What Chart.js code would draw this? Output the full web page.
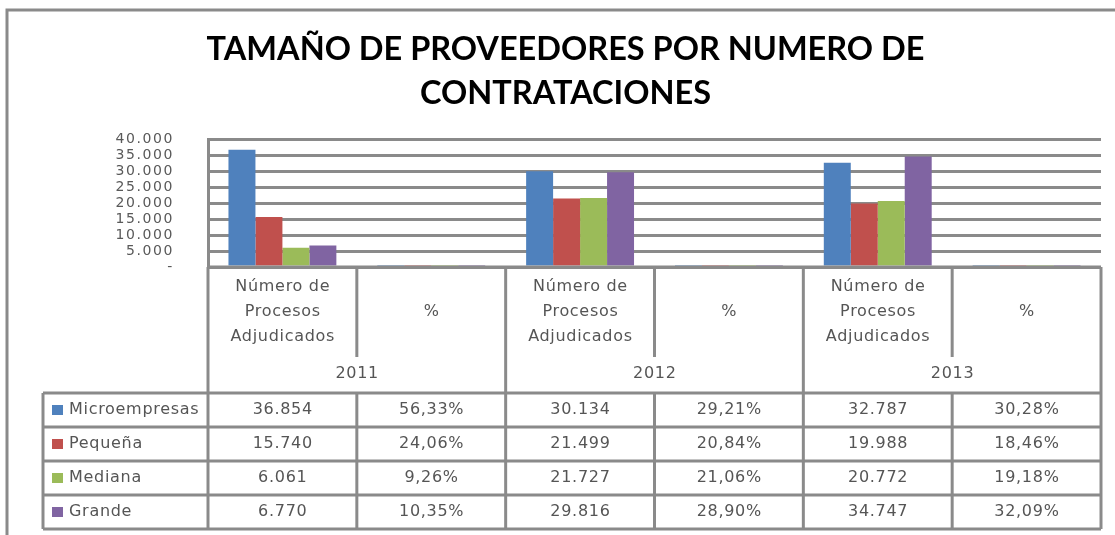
<!DOCTYPE html>
<html>
<head>
<meta charset="utf-8">
<script src="https://cdn.jsdelivr.net/npm/chart.js@4"></script>
<style>
  html, body { margin: 0; padding: 0; background: #fff; }
  canvas { display: block; }
</style>
</head>
<body>
<canvas id="chart" width="1115" height="535"></canvas>
<script>
// categorias del eje x (dos columnas por año)
const categories = ['Número de Procesos Adjudicados', '%', 'Número de Procesos Adjudicados', '%', 'Número de Procesos Adjudicados', '%'];
const years = ['2011', '2012', '2013'];
const seriesNames = ['Microempresas', 'Pequeña', 'Mediana', 'Grande'];
const seriesColors = ['#4F81BD', '#C0504D', '#9BBB59', '#8064A2'];

// numero de procesos adjudicados por año (2011, 2012, 2013)
const microCount = [36854, 30134, 32787];
const pequenaCount = [15740, 21499, 19988];
const medianaCount = [6061, 21727, 20772];
const grandeCount = [6770, 29816, 34747];

// porcentajes por año
const microPct = [56.33, 29.21, 30.28];
const pequenaPct = [24.06, 20.84, 18.46];
const medianaPct = [9.26, 21.06, 19.18];
const grandePct = [10.35, 28.90, 32.09];

const yTicks = [0, 5000, 10000, 15000, 20000, 25000, 30000, 35000, 40000];

const counts = [microCount, pequenaCount, medianaCount, grandeCount];
const pcts = [microPct, pequenaPct, medianaPct, grandePct];

const GRID = '#8a8a8a';
const TEXT = '#555555';
const FONT = '"DejaVu Sans", sans-serif';

function fmtThousands(v) {
    if (v === 0) return '-';
    return String(v).replace(/\B(?=(\d{3})+(?!\d))/g, '.');
}
function fmtPct(v) {
    return v.toFixed(2).replace('.', ',') + '%';
}

// una fila por serie: cantidad y fraccion para cada año
function rowValues(i) {
    const out = [];
    for (let y = 0; y < years.length; y++) {
        out.push(counts[i][y]);
        out.push(pcts[i][y] / 100);
    }
    return out;
}
function rowTexts(i) {
    const out = [];
    for (let y = 0; y < years.length; y++) {
        out.push(fmtThousands(counts[i][y]));
        out.push(fmtPct(pcts[i][y]));
    }
    return out;
}

// marco exterior, fondo y espaciado de las etiquetas del eje y
const framePlugin = {
    id: 'frame',
    beforeDraw(chart) {
        const ctx = chart.ctx;
        ctx.save();
        ctx.fillStyle = '#fff';
        ctx.fillRect(0, 0, chart.width, chart.height);
        ctx.strokeStyle = GRID;
        ctx.lineWidth = 3;
        ctx.strokeRect(7, 10, chart.width + 20, chart.height + 20);
        ctx.restore();
        ctx.letterSpacing = '0px';
    },
    afterDatasetsDraw(chart) {
        // las etiquetas del eje y (z = 1) se dibujan despues de esto
        chart.ctx.letterSpacing = '1.6px';
    },
    afterDraw(chart) {
        chart.ctx.letterSpacing = '0px';
    }
};

// tabla de datos debajo del grafico
const dataTablePlugin = {
    id: 'dataTable',
    afterDraw(chart) {
        const ctx = chart.ctx;
        const xs = chart.scales.x;
        const area = chart.chartArea;
        const n = categories.length;
        const colW = (area.right - area.left) / n;
        const edges = [];
        for (let i = 0; i <= n; i++) edges.push(area.left + i * colW);

        const top = area.bottom;
        const headBottom = 393;
        const subBottom = 357;
        const rowH = 34;
        const legendLeft = 43;

        ctx.save();
        ctx.strokeStyle = GRID;
        ctx.lineWidth = 3;
        ctx.lineCap = 'butt';

        const line = (x1, y1, x2, y2) => {
            ctx.beginPath();
            ctx.moveTo(x1, y1);
            ctx.lineTo(x2, y2);
            ctx.stroke();
        };

        // cabecera
        line(area.left, top, area.right, top);
        for (let i = 0; i <= n; i++) {
            const yEnd = (i % 2 === 0) ? headBottom : subBottom;
            line(edges[i], top, edges[i], yEnd);
        }
        // filas
        const rowsBottom = headBottom + rowH * seriesNames.length;
        for (let r = 0; r <= seriesNames.length; r++) {
            const y = headBottom + r * rowH;
            line(legendLeft, y, area.right, y);
        }
        line(legendLeft, headBottom, legendLeft, rowsBottom);
        for (let i = 0; i <= n; i++) line(edges[i], headBottom, edges[i], rowsBottom);

        // textos de cabecera
        const ls = 0.7;
        ctx.letterSpacing = ls + 'px';
        ctx.fillStyle = TEXT;
        ctx.textAlign = 'center';
        ctx.textBaseline = 'middle';
        ctx.font = '16px ' + FONT;
        categories.forEach((c, i) => {
            const cx = xs.getPixelForValue(i) + ls / 2;
            if (c === '%') {
                ctx.fillText('%', cx, 312);
            } else {
                ctx.fillText('Número de', cx, 287);
                ctx.fillText('Procesos', cx, 312);
                ctx.fillText('Adjudicados', cx, 337);
            }
        });
        years.forEach((y, i) => {
            ctx.fillText(y, edges[i * 2 + 1] + ls / 2, 374);
        });

        // filas de datos y leyenda
        seriesNames.forEach((name, r) => {
            const cy = headBottom + r * rowH + rowH / 2;
            const texts = rowTexts(r);
            ctx.textAlign = 'center';
            ctx.fillStyle = TEXT;
            texts.forEach((t, i) => {
                ctx.fillText(t, xs.getPixelForValue(i) + ls / 2, cy);
            });
            ctx.fillStyle = seriesColors[r];
            ctx.fillRect(52, cy - 5, 11, 10);
            ctx.fillStyle = TEXT;
            ctx.textAlign = 'left';
            ctx.fillText(name, 69, cy);
        });
        ctx.restore();
    }
};

const datasets = seriesNames.map((name, i) => ({
    label: name,
    data: rowValues(i),
    backgroundColor: seriesColors[i],
    borderWidth: 0
}));

new Chart(document.getElementById('chart'), {
    type: 'bar',
    data: { labels: categories, datasets: datasets },
    options: {
        responsive: false,
        animation: false,
        categoryPercentage: 0.725,
        barPercentage: 1,
        layout: { padding: { left: 30, right: 14, top: 0, bottom: 268 } },
        plugins: {
            legend: { display: false },
            tooltip: { enabled: false },
            title: {
                display: true,
                text: ['TAMAÑO DE PROVEEDORES POR NUMERO DE', 'CONTRATACIONES'],
                color: '#000',
                font: { family: 'Lato', size: 32.5, weight: 'bold', lineHeight: 1.35 },
                padding: { top: 28, bottom: 24 }
            }
        },
        scales: {
            x: {
                ticks: { display: false },
                grid: { display: false },
                border: { display: false },
                afterFit(scale) { scale.height = 0; }
            },
            y: {
                min: 0,
                max: 40000,
                afterBuildTicks(scale) {
                    scale.ticks = yTicks.map(v => ({ value: v }));
                },
                ticks: {
                    z: 1,
                    autoSkip: false,
                    color: '#595959',
                    padding: 34,
                    font: { family: FONT, size: 14, lineHeight: 1 },
                    callback: v => fmtThousands(v)
                },
                grid: { color: GRID, lineWidth: 3, drawTicks: false },
                border: { display: true, color: GRID, width: 3 },
                afterFit(scale) { scale.width = 178; }
            }
        }
    },
    plugins: [framePlugin, dataTablePlugin]
});
</script>
</body>
</html>
